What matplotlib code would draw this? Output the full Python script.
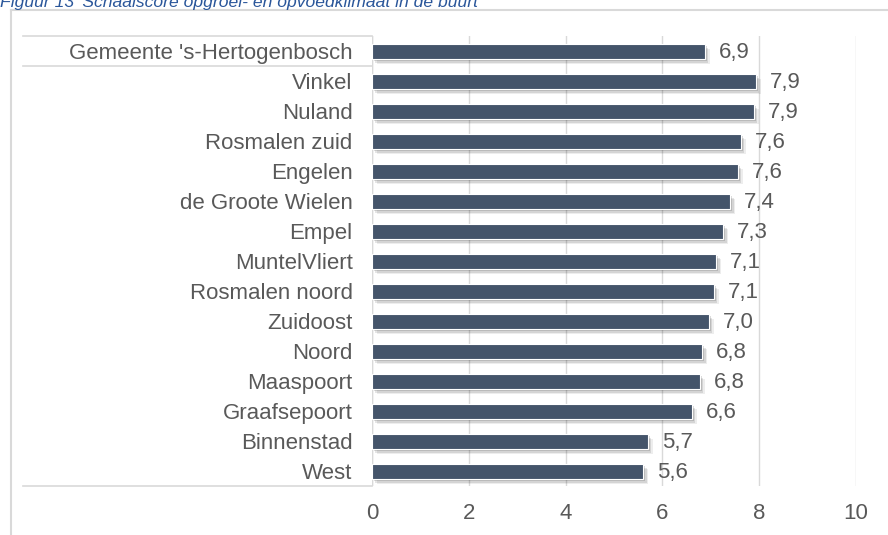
import matplotlib
matplotlib.use("Agg")
import matplotlib.pyplot as plt
import matplotlib.patheffects as pe
from matplotlib.lines import Line2D

plt.rcParams['font.family'] = ['Liberation Sans', 'DejaVu Sans']

# data
wijken = ["Gemeente 's-Hertogenbosch", "Vinkel", "Nuland", "Rosmalen zuid", "Engelen",
          "de Groote Wielen", "Empel", "MuntelVliert", "Rosmalen noord", "Zuidoost",
          "Noord", "Maaspoort", "Graafsepoort", "Binnenstad", "West"]
scores = [6.88, 7.93, 7.89, 7.62, 7.56, 7.40, 7.26, 7.11, 7.06, 6.96,
          6.82, 6.77, 6.61, 5.70, 5.60]
xticks = [0, 2, 4, 6, 8, 10]
titel = "Figuur 13 'Schaalscore opgroei- en opvoedklimaat in de buurt'"

W, H = 888, 535
fig = plt.figure(figsize=(W / 100, H / 100), dpi=100)
ax = fig.add_axes([372 / W, 1 - 486 / H, 484 / W, 450 / H])

txt = "#595959"
grid = "#D9D9D9"
ypos = list(range(len(wijken)))

bars = ax.barh(ypos, scores, height=0.5, color="#44546A", edgecolor="white",
               linewidth=0.8, zorder=3)
for b in bars:
    b.set_path_effects([
        pe.SimplePatchShadow(offset=(3.5, -4), shadow_rgbFace="black", alpha=0.07),
        pe.SimplePatchShadow(offset=(2.5, -3), shadow_rgbFace="black", alpha=0.1),
        pe.SimplePatchShadow(offset=(1.5, -2), shadow_rgbFace="black", alpha=0.14),
        pe.Normal()])

for y, v in zip(ypos, scores):
    ax.annotate(f"{v:.1f}".replace(".", ","), (v, y), xytext=(10, -1),
                textcoords="offset points", va="center", ha="left",
                fontsize=16, color=txt)

ax.set_xlim(0, 10)
ax.set_ylim(len(wijken) - 0.5, -0.5)
ax.set_xticks(xticks)
ax.set_xticklabels([str(t) for t in xticks])
ax.set_yticks(ypos)
ax.set_yticklabels(wijken)
ax.tick_params(axis="both", length=0, labelsize=16, labelcolor=txt)
ax.tick_params(axis="y", pad=14)
ax.tick_params(axis="x", pad=12)
ax.grid(axis="x", color=grid, linewidth=1, zorder=0)
for s in ax.spines.values():
    s.set_visible(False)
ax.axvline(0, color=grid, linewidth=1, zorder=1)

# lijnen van het labelvak
tr = ax.get_yaxis_transform()
x0 = (23 - 372) / 484
for yy in [-0.5, 0.5, len(wijken) - 0.5]:
    ax.plot([x0, 0], [yy, yy], transform=tr, color=grid, linewidth=1.2, clip_on=False)

# kader en titel
fig.add_artist(Line2D([11 / W, 11 / W], [0, 1 - 10 / H], color=grid, linewidth=1.5))
fig.add_artist(Line2D([11 / W, 1], [1 - 10 / H, 1 - 10 / H], color=grid, linewidth=1.5))
fig.text(0.0, 1 - 7 / H, titel, fontsize=12.6, style="italic", color="#2A569A",
         va="baseline", ha="left")

fig.savefig("out.png", dpi=100)
